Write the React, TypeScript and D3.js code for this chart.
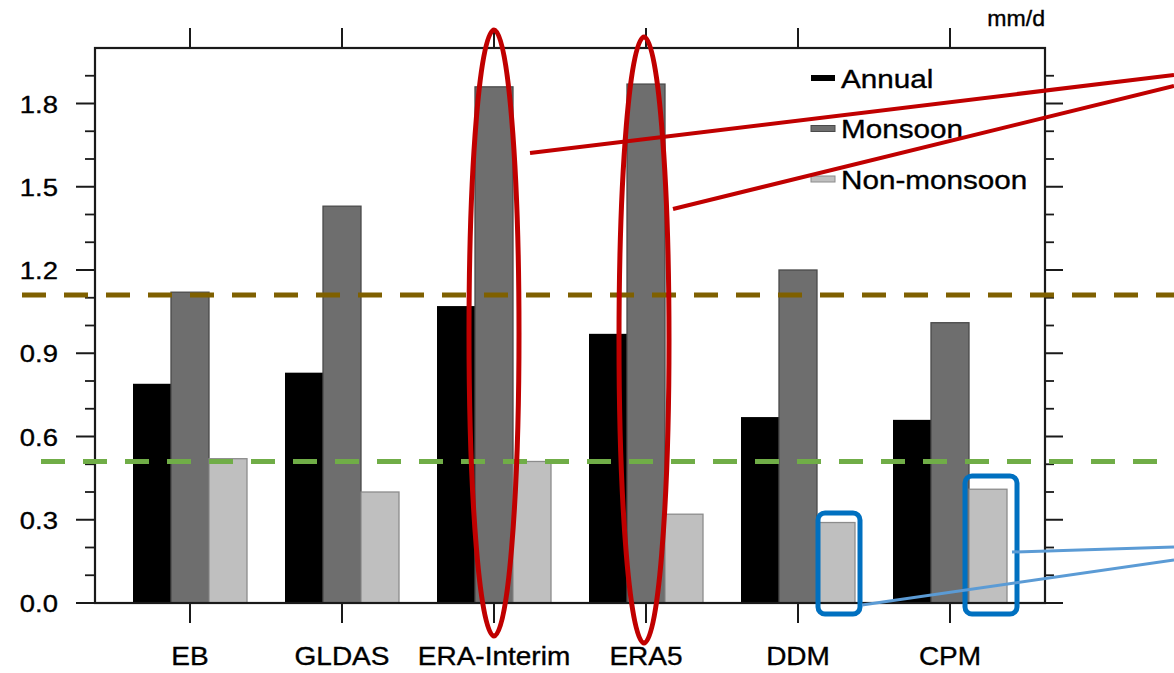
import * as d3 from "d3";

const categories = ["EB", "GLDAS", "ERA-Interim", "ERA5", "DDM", "CPM"];
const annual = [0.79, 0.83, 1.07, 0.97, 0.67, 0.66];
const monsoon = [1.12, 1.43, 1.86, 1.87, 1.2, 1.01];
const nonMonsoon = [0.52, 0.4, 0.51, 0.32, 0.29, 0.41];
const seriesNames = ["Annual", "Monsoon", "Non-monsoon"];
const yTickLabels = ["0.0", "0.3", "0.6", "0.9", "1.2", "1.5", "1.8"];
const brownRef = 1.11;
const greenRef = 0.51;
const unitLabel = "mm/d";

const W = 1174;
const H = 673;
const FONT = "'Liberation Sans', Arial, Helvetica, sans-serif";
const SX = 1.12; // the source text is a little wide

const fills = ["#000000", "#6e6e6e", "#bfbfbf"];
const strokes = ["#000000", "#4a4a4a", "#8c8c8c"];

export default function App() {
  const x = d3.scaleLinear().domain([-0.625, 5.625]).range([95, 1045]);
  const y = d3.scaleLinear().domain([0, 2.0]).range([603, 48]);
  const bw = x(0.25) - x(0);
  const series = [annual, monsoon, nonMonsoon];

  const majors = yTickLabels.map((t) => +t);
  const minors = d3.range(1, 20).map((i) => i / 10).filter((v) => !majors.some((m) => Math.abs(m - v) < 1e-6));

  const left = x.range()[0];
  const right = x.range()[1];
  const top = y.range()[1];
  const bottom = y.range()[0];

  // text gets a hairline stroke so it reads as heavy as the source
  const txt = { fill: "#000", stroke: "#000", strokeWidth: 0.35 };

  return (
    <svg width={W} height={H} style={{ position: "absolute", left: 0, top: 0, background: "#fff" }} fontFamily={FONT}>
      {/* bars */}
      {series.map((vals, s) =>
        vals.map((v, i) => (
          <rect
            key={`${s}-${i}`}
            x={x(i + (s - 1) * 0.25) - bw / 2}
            y={y(v)}
            width={bw}
            height={y(0) - y(v)}
            fill={fills[s]}
            stroke={strokes[s]}
            strokeWidth={s === 0 ? 0 : 1.3}
          />
        ))
      )}

      {/* frame */}
      <rect x={left} y={top} width={right - left} height={bottom - top} fill="none" stroke="#1a1a1a" strokeWidth={2.2} />

      {/* y ticks left + right */}
      {majors.map((v) => (
        <g key={`M${v}`} stroke="#1a1a1a" strokeWidth={2}>
          <line x1={left - 19} x2={left} y1={y(v)} y2={y(v)} />
          <line x1={right} x2={right + 18} y1={y(v)} y2={y(v)} />
        </g>
      ))}
      {minors.map((v) => (
        <g key={`m${v}`} stroke="#1a1a1a" strokeWidth={1.8}>
          <line x1={left - 10} x2={left} y1={y(v)} y2={y(v)} />
          <line x1={right} x2={right + 9} y1={y(v)} y2={y(v)} />
        </g>
      ))}
      {yTickLabels.map((t) => (
        <text key={t} transform={`translate(58,${y(+t) + 9}) scale(${SX},1)`} textAnchor="end" fontSize={24.5} {...txt}>
          {t}
        </text>
      ))}

      {/* x ticks bottom + top */}
      {categories.map((c, i) => (
        <g key={c}>
          <line x1={x(i)} x2={x(i)} y1={bottom} y2={bottom + 20} stroke="#1a1a1a" strokeWidth={2} />
          <line x1={x(i)} x2={x(i)} y1={top - 20} y2={top} stroke="#1a1a1a" strokeWidth={2} />
          <text transform={`translate(${x(i)},665) scale(${SX},1)`} textAnchor="middle" fontSize={25} {...txt}>
            {c}
          </text>
        </g>
      ))}

      <text transform={`translate(${right},26) scale(1.05,1)`} textAnchor="end" fontSize={22} {...txt}>
        {unitLabel}
      </text>

      {/* legend */}
      {seriesNames.map((n, s) => (
        <g key={n}>
          <rect x={811} y={78 + s * 50.5 - 3} width={24} height={6} fill={fills[s]} stroke={strokes[s]} strokeWidth={s === 0 ? 0 : 1} />
          <text transform={`translate(841,${78 + s * 50.5 + 9.5}) scale(${SX},1)`} fontSize={26.5} {...txt}>
            {n}
          </text>
        </g>
      ))}

      {/* reference lines */}
      <line x1={22} x2={W} y1={y(brownRef)} y2={y(brownRef)} stroke="#7f6000" strokeWidth={5} strokeDasharray="24 18" />
      <line x1={41} x2={W} y1={y(greenRef)} y2={y(greenRef)} stroke="#70ad47" strokeWidth={5} strokeDasharray="24 18" />

      {/* red annotations */}
      <ellipse cx={x(2)} cy={333} rx={25} ry={303} fill="none" stroke="#c00000" strokeWidth={5} />
      <ellipse cx={x(3) - 2} cy={340} rx={25} ry={303} fill="none" stroke="#c00000" strokeWidth={5} />
      <line x1={530} y1={153} x2={W} y2={75} stroke="#c00000" strokeWidth={4} />
      <line x1={673} y1={209} x2={W} y2={86} stroke="#c00000" strokeWidth={4} />

      {/* blue annotations */}
      <rect x={818} y={513} width={42} height={101} rx={7} fill="none" stroke="#0070c0" strokeWidth={5} />
      <rect x={965} y={476} width={52} height={138} rx={7} fill="none" stroke="#0070c0" strokeWidth={5} />
      <line x1={1012} y1={552} x2={W} y2={547} stroke="#5b9bd5" strokeWidth={3} />
      <line x1={862} y1={605} x2={W} y2={560} stroke="#5b9bd5" strokeWidth={3} />
    </svg>
  );
}
